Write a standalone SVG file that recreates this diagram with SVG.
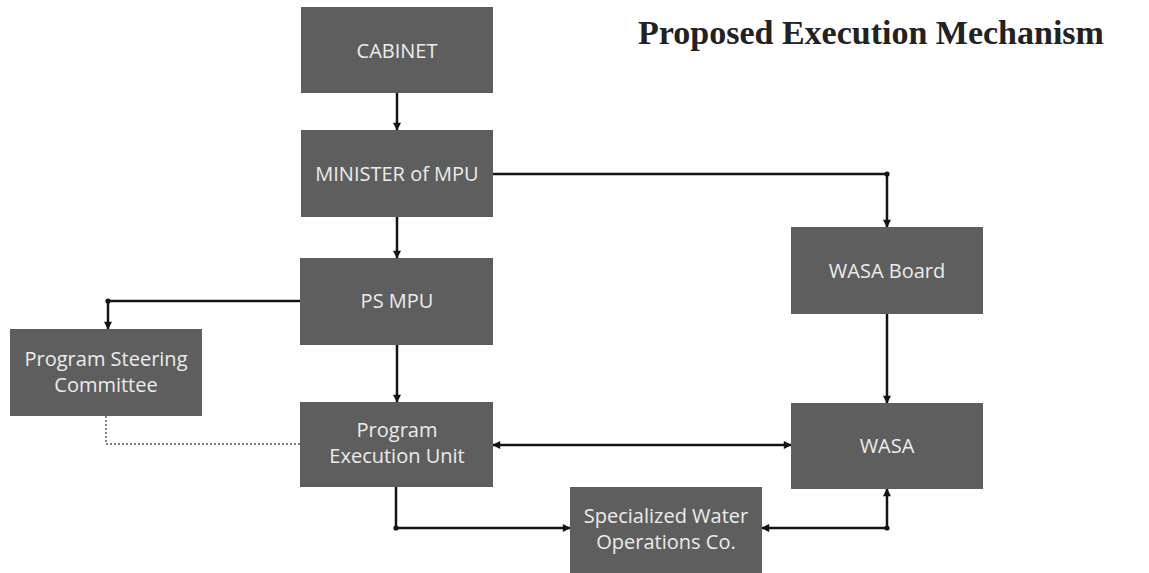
<svg xmlns="http://www.w3.org/2000/svg" width="1149" height="573" viewBox="0 0 1149 573">
  <style>
    .box { fill: #5e5e5e; }
    .lbl { font-family: "Open Sans", "Liberation Sans", sans-serif; font-size: 20px; fill: #ececec; text-anchor: middle; }
    .wire { fill: none; stroke: #141414; stroke-width: 2.5; stroke-linejoin: miter; }
    .dash { fill: none; stroke: #555; stroke-width: 1.4; stroke-dasharray: 2 2; }
    .title { font-family: "Liberation Serif", "Times New Roman", serif; font-weight: bold; font-size: 34px; fill: #222; }
    .knot { fill: #141414; }
  </style>
  <defs>
    <marker id="arrow" viewBox="0 0 10 10" refX="9" refY="5" markerUnits="userSpaceOnUse" markerWidth="9" markerHeight="8" orient="auto-start-reverse">
      <path d="M0,0 L10,5 L0,10 z" fill="#141414"/>
    </marker>
  </defs>

  <rect width="1149" height="573" fill="#ffffff"/>

  <text class="title" x="638" y="44">Proposed Execution Mechanism</text>

  <!-- connectors -->
  <g id="connectors">
    <path class="wire" d="M397,93 V130" marker-end="url(#arrow)"/>
    <path class="wire" d="M397,217 V258" marker-end="url(#arrow)"/>
    <path class="wire" d="M397,345 V402" marker-end="url(#arrow)"/>
    <path class="wire" d="M300,301 H108 V329" marker-end="url(#arrow)"/>
    <path class="dash" d="M106,416 V444 H300"/>
    <path class="wire" d="M493,174 H887 V227" marker-end="url(#arrow)"/>
    <path class="wire" d="M887,314 V403" marker-end="url(#arrow)"/>
    <path class="wire" d="M493,445 H791" marker-start="url(#arrow)" marker-end="url(#arrow)"/>
    <path class="wire" d="M396,487 V528 H570" marker-end="url(#arrow)"/>
    <path class="wire" d="M762,528 H887 V489" marker-start="url(#arrow)" marker-end="url(#arrow)"/>
    <!-- small joints at the bends -->
    <circle class="knot" cx="108" cy="301" r="2.6"/>
    <circle class="knot" cx="887" cy="174" r="2.6"/>
    <circle class="knot" cx="396" cy="528" r="2.6"/>
    <circle class="knot" cx="887" cy="528" r="2.6"/>
  </g>

  <g id="cabinet">
    <rect class="box" x="301" y="7" width="192" height="86"/>
    <text class="lbl" x="397" y="58">CABINET</text>
  </g>

  <g id="minister">
    <rect class="box" x="301" y="130" width="192" height="87"/>
    <text class="lbl" x="397" y="181">MINISTER of MPU</text>
  </g>

  <g id="ps-mpu">
    <rect class="box" x="300" y="258" width="193" height="87"/>
    <text class="lbl" x="397" y="308">PS MPU</text>
  </g>

  <g id="steering-committee">
    <rect class="box" x="10" y="329" width="192" height="87"/>
    <text class="lbl" x="106" y="366">Program Steering</text>
    <text class="lbl" x="106" y="392">Committee</text>
  </g>

  <g id="execution-unit">
    <rect class="box" x="300" y="402" width="193" height="85"/>
    <text class="lbl" x="397" y="437">Program</text>
    <text class="lbl" x="397" y="463">Execution Unit</text>
  </g>

  <g id="wasa-board">
    <rect class="box" x="791" y="227" width="192" height="87"/>
    <text class="lbl" x="887" y="278">WASA Board</text>
  </g>

  <g id="wasa">
    <rect class="box" x="791" y="403" width="192" height="86"/>
    <text class="lbl" x="887" y="453">WASA</text>
  </g>

  <g id="water-ops">
    <rect class="box" x="570" y="487" width="192" height="88"/>
    <text class="lbl" x="666" y="523">Specialized Water</text>
    <text class="lbl" x="666" y="549">Operations Co.</text>
  </g>
</svg>
